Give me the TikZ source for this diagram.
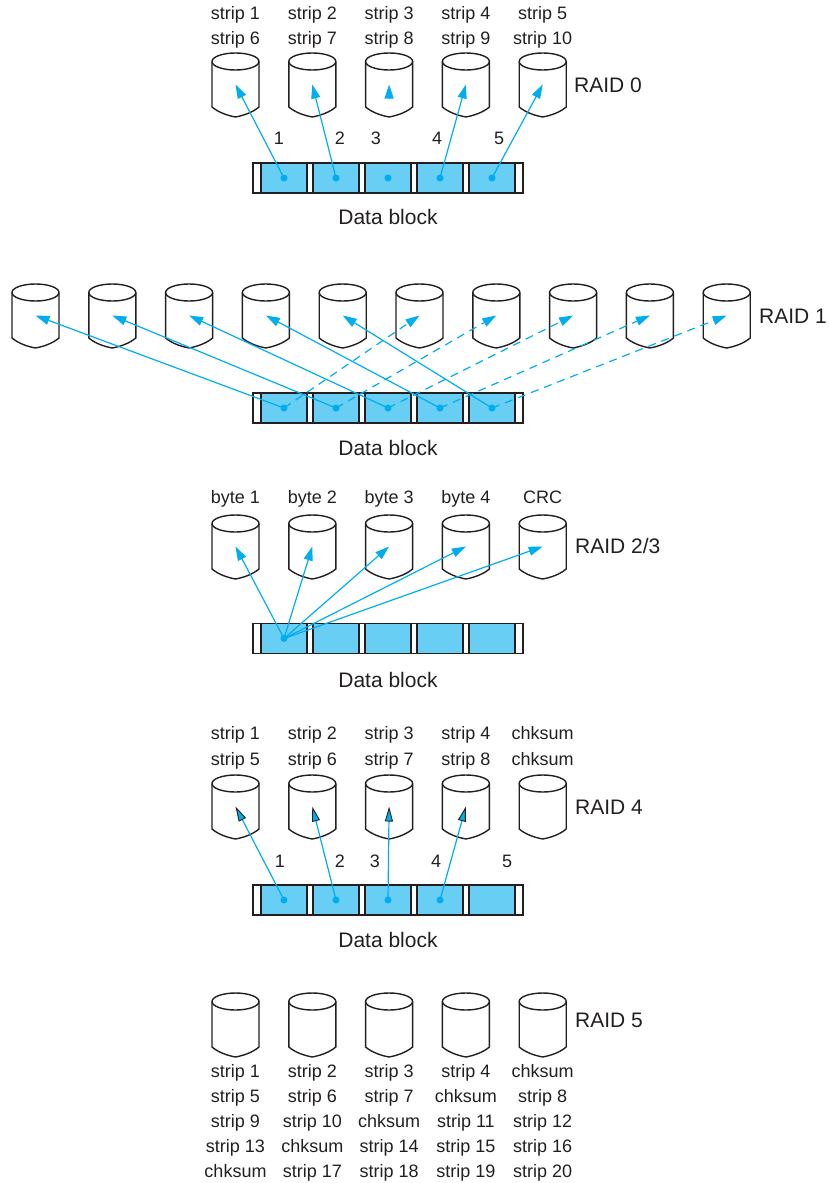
\documentclass[tikz,border=0pt]{standalone}
\usepackage{fontspec}
\setmainfont{Liberation Sans}
\usetikzlibrary{arrows.meta,calc}
\definecolor{raidblue}{RGB}{0,174,239}
\definecolor{cellblue}{RGB}{104,206,243}
\definecolor{ink}{RGB}{35,31,32}

\tikzset{
  pics/disk/.style={code={
    \draw[ink, line width=1.4pt] (0,0) ellipse [x radius=23.5pt, y radius=8.5pt];
    \draw[ink, line width=1.4pt] (-23.5,0) -- (-23.5,45.5) .. controls (-17,51) and (-8,54) .. (0,55.5)
      .. controls (8,54) and (17,51) .. (23.5,45.5) -- (23.5,0);
    \coordinate (-tip) at (0,23);
  }}
}

% frame of a data block with its five cells
\newcommand{\datablock}[2]{%
  \node[frame] (#1) at (388,#2) {};
  \foreach \i in {1,...,5}
    \node[cell] (#1\i) at ({232+52*\i},#2) {};
}

\begin{document}
\begin{tikzpicture}[x=1pt, y=-1pt,
  lbl/.style={anchor=base, inner sep=0pt, font=\fontsize{18}{22}\selectfont, text=ink},
  big/.style={anchor=base, inner sep=0pt, font=\fontsize{21}{25}\selectfont, text=ink},
  frame/.style={draw=ink, line width=1.7pt, fill=white, minimum width=270pt, minimum height=30pt, inner sep=0pt},
  cell/.style={draw=ink, line width=1.6pt, fill=cellblue, minimum width=46pt, minimum height=30pt, inner sep=0pt},
  arr/.style={raidblue, line width=1.2pt, -{Triangle[length=14pt, width=9pt]}},
  dsh/.style={arr, dash pattern=on 8pt off 6pt},
  arrk/.style={raidblue, line width=1.2pt, -{Triangle[length=15pt, width=8pt, color=ink, fill=raidblue, line width=0.9pt]}}]
\useasboundingbox (0,0) rectangle (829,1183);

% RAID 0
\foreach \i in {1,...,5}{
  \pic (r0d\i) at ({158.7+76.8*\i},61.5) {disk};
  \pgfmathtruncatemacro\j{\i+5}
  \node[lbl] (r0s\i) at ({158.7+76.8*\i},19.5) {strip \i};
  \node[lbl] (r0t\i) at ({158.7+76.8*\i},44.5) {strip \j};
}
\node[big, anchor=base west] (r0name) at (574,92) {RAID 0};
\foreach \n/\x in {1/279, 2/340, 3/376, 4/437, 5/499}
  \node[lbl] (r0n\n) at (\x,144) {\n};
\datablock{r0b}{178}
\node[big] (r0lbl) at (388,224.5) {Data block};
\foreach \i in {1,2,4,5}
  \draw[arr] (r0b\i.center) -- (r0d\i-tip);
\draw[arr] ($(r0d3-tip)+(0,14)$) -- (r0d3-tip);
\foreach \i in {1,...,5}
  \fill[raidblue] (r0b\i) circle[radius=3.5pt];

% RAID 1
\foreach \i in {1,...,10}
  \pic (r1d\i) at ({-41.3+76.8*\i},292.5) {disk};
\node[big, anchor=base west] (r1name) at (759,323) {RAID 1};
\datablock{r1b}{408}
\node[big] (r1lbl) at (388,455.5) {Data block};
\foreach \i in {1,...,5}{
  \pgfmathtruncatemacro\j{\i+5}
  \draw[arr] (r1b\i.center) -- (r1d\i-tip);
  \draw[dsh] (r1b\i.center) -- (r1d\j-tip);
  \fill[raidblue] (r1b\i) circle[radius=3.5pt];
}

% RAID 2/3
\foreach \t [count=\i] in {byte 1, byte 2, byte 3, byte 4, CRC}{
  \pic (r2d\i) at ({158.7+76.8*\i},523.5) {disk};
  \node[lbl] (r2s\i) at ({158.7+76.8*\i},503) {\t};
}
\node[big, anchor=base west] (r2name) at (575,553) {RAID 2/3};
\datablock{r2b}{638.5}
\node[big] (r2lbl) at (388,687) {Data block};
\foreach \i in {1,...,5}
  \draw[arr] (r2b1.center) -- (r2d\i-tip);
\fill[raidblue] (r2b1) circle[radius=3.5pt];

% RAID 4
\foreach \t/\u [count=\i] in {strip 1/strip 5, strip 2/strip 6, strip 3/strip 7, strip 4/strip 8, chksum/chksum}{
  \pic (r4d\i) at ({158.7+76.8*\i},783.5) {disk};
  \node[lbl] (r4s\i) at ({158.7+76.8*\i},739.5) {\t};
  \node[lbl] (r4t\i) at ({158.7+76.8*\i},765) {\u};
}
\node[big, anchor=base west] (r4name) at (575,814) {RAID 4};
\foreach \n/\x in {1/280, 2/340, 3/375, 4/436, 5/507}
  \node[lbl] (r4n\n) at (\x,867) {\n};
\datablock{r4b}{900}
\node[big] (r4lbl) at (388,947) {Data block};
\foreach \i in {1,...,4}{
  \draw[arrk] (r4b\i.center) -- (r4d\i-tip);
  \fill[raidblue] (r4b\i) circle[radius=3.5pt];
}

% RAID 5
\foreach \i in {1,...,5}
  \pic (r5d\i) at ({158.7+76.8*\i},1001.5) {disk};
\node[big, anchor=base west] (r5name) at (575,1027.5) {RAID 5};
\foreach \row [count=\r] in {{strip 1,strip 2,strip 3,strip 4,chksum},
    {strip 5,strip 6,strip 7,chksum,strip 8},
    {strip 9,strip 10,chksum,strip 11,strip 12},
    {strip 13,chksum,strip 14,strip 15,strip 16},
    {chksum,strip 17,strip 18,strip 19,strip 20}}
  \foreach \t [count=\i] in \row
    \node[lbl] (r5s\r\i) at ({158.7+76.8*\i},{1052+25*\r}) {\t};
\end{tikzpicture}
\end{document}
